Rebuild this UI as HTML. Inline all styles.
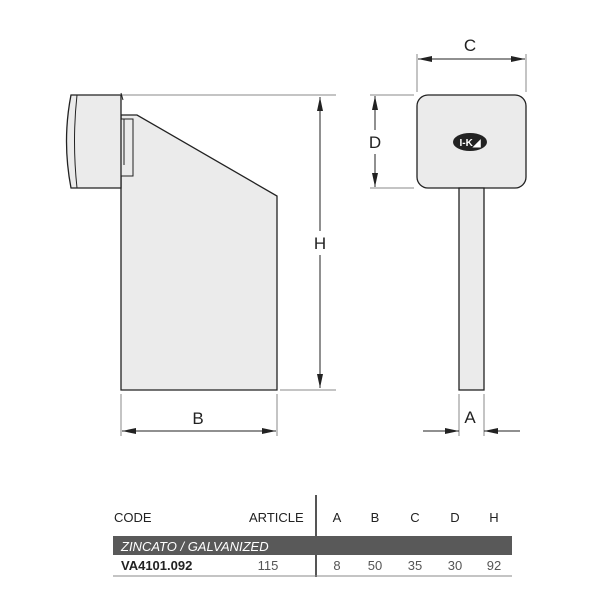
<!DOCTYPE html>
<html><head><style>
body{margin:0;background:#fff;width:600px;height:600px;overflow:hidden}
svg{display:block}
text{font-family:"Liberation Sans",sans-serif}
</style></head><body>
<svg width="600" height="600" viewBox="0 0 600 600">
<defs>
<marker id="ar" markerWidth="14" markerHeight="8" refX="14" refY="4" orient="auto-start-reverse" markerUnits="userSpaceOnUse">
<path d="M0,1 L14,4 L0,7 Z" fill="#222"/></marker>
</defs>
<g stroke="#222" fill="none" stroke-width="1">
<line x1="121" y1="95" x2="336" y2="95" stroke="#888"/>
<line x1="280" y1="390" x2="336" y2="390" stroke="#888"/>
<polygon points="121,115 137,115 277,196 277,390 121,390" fill="#ebebeb" stroke-width="1.3"/>
<rect x="121" y="119" width="12" height="57" fill="#ebebeb"/>
<line x1="124" y1="119" x2="124" y2="165"/>
<path d="M71,95 L121,95 L121,188 L71,188 Q62,141 71,95 Z" fill="#ebebeb" stroke-width="1.3"/>
<path d="M77,95 Q72,141 77,188"/>
<line x1="121" y1="93" x2="123" y2="100"/>
<line x1="320" y1="97" x2="320" y2="388" marker-start="url(#ar)" marker-end="url(#ar)"/>
<line x1="121" y1="394" x2="121" y2="436" stroke="#888"/>
<line x1="277" y1="394" x2="277" y2="436" stroke="#888"/>
<line x1="122" y1="431" x2="276" y2="431" marker-start="url(#ar)" marker-end="url(#ar)"/>
<rect x="417" y="95" width="109" height="93" rx="11" fill="#ebebeb" stroke-width="1.3"/>
<rect x="459" y="188" width="25" height="202" fill="#ebebeb" stroke-width="1.3"/>
<line x1="417" y1="54" x2="417" y2="92" stroke="#888"/>
<line x1="526" y1="54" x2="526" y2="92" stroke="#888"/>
<line x1="418" y1="59" x2="525" y2="59" marker-start="url(#ar)" marker-end="url(#ar)"/>
<line x1="370" y1="95" x2="414" y2="95" stroke="#888"/>
<line x1="370" y1="188" x2="414" y2="188" stroke="#888"/>
<line x1="375" y1="96" x2="375" y2="187" marker-start="url(#ar)" marker-end="url(#ar)"/>
<line x1="459" y1="394" x2="459" y2="436" stroke="#888"/>
<line x1="484" y1="394" x2="484" y2="436" stroke="#888"/>
<line x1="423" y1="431" x2="459" y2="431" marker-end="url(#ar)"/>
<line x1="520" y1="431" x2="484" y2="431" marker-end="url(#ar)"/>
<line x1="316" y1="495" x2="316" y2="577" stroke="#555" stroke-width="2"/>
<line x1="113" y1="576" x2="512" y2="576" stroke="#888"/>
</g>
<rect x="311" y="231" width="18" height="24" fill="#fff"/>
<rect x="366" y="130" width="18" height="24" fill="#fff"/>
<ellipse cx="470" cy="142" rx="17" ry="9" fill="#222"/>
<text x="470" y="146" font-size="10" fill="#fff" text-anchor="middle" font-weight="bold">I-K◢</text>
<g font-size="17" fill="#222" text-anchor="middle">
<text x="320" y="249">H</text>
<text x="198" y="424">B</text>
<text x="470" y="51">C</text>
<text x="375" y="148">D</text>
<text x="470" y="423">A</text>
</g>
<rect x="113" y="536" width="399" height="19" fill="#595959"/>
<g font-size="13" fill="#222">
<text x="114" y="522">CODE</text>
<text x="249" y="522">ARTICLE</text>
<text x="337" y="522" text-anchor="middle">A</text>
<text x="375" y="522" text-anchor="middle">B</text>
<text x="415" y="522" text-anchor="middle">C</text>
<text x="455" y="522" text-anchor="middle">D</text>
<text x="494" y="522" text-anchor="middle">H</text>
<text x="121" y="551" fill="#fff" font-style="italic">ZINCATO / GALVANIZED</text>
<text x="121" y="570" font-weight="bold">VA4101.092</text>
<g fill="#555"><text x="268" y="570" text-anchor="middle">115</text>
<text x="337" y="570" text-anchor="middle">8</text>
<text x="375" y="570" text-anchor="middle">50</text>
<text x="415" y="570" text-anchor="middle">35</text>
<text x="455" y="570" text-anchor="middle">30</text>
<text x="494" y="570" text-anchor="middle">92</text></g>
</g>
</svg>
</body></html>
